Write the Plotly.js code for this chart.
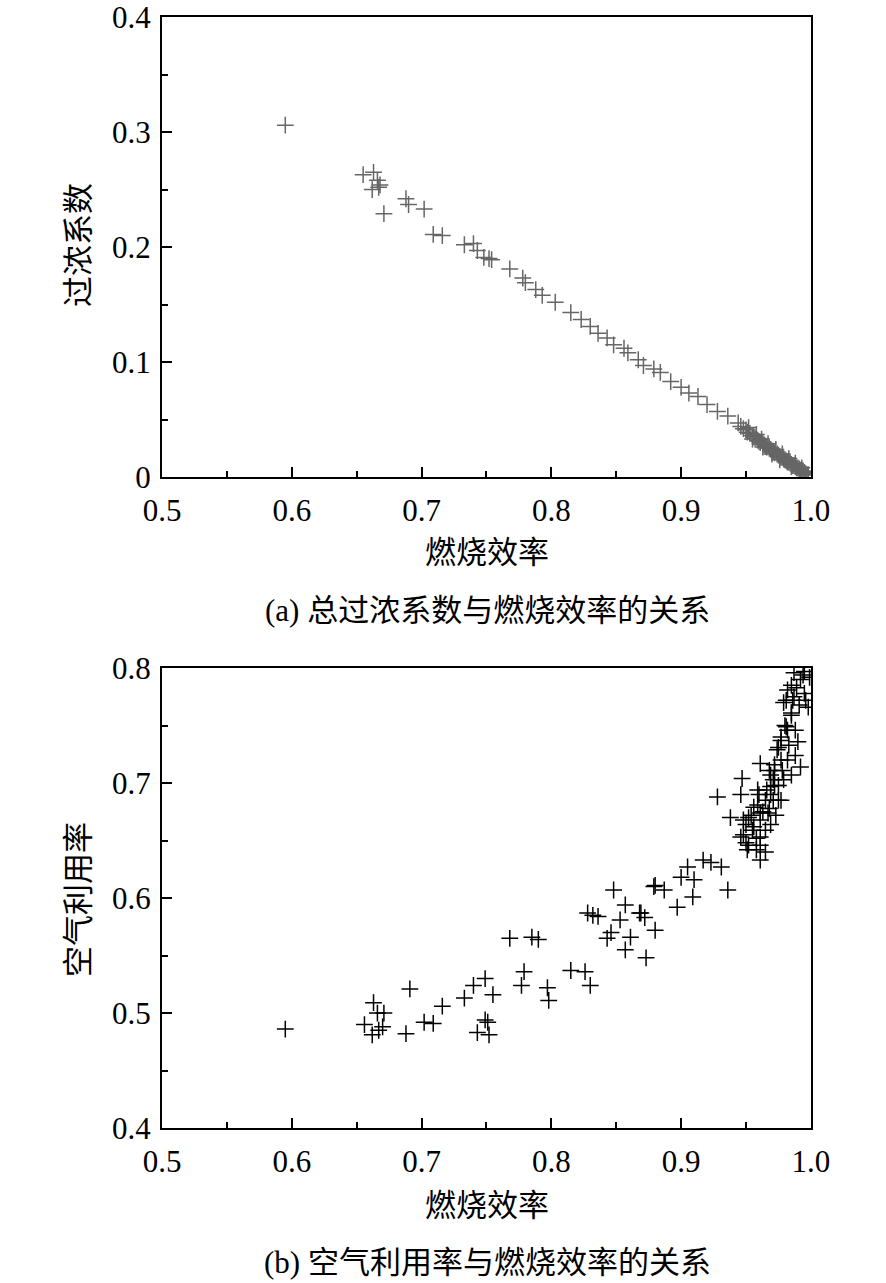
<!DOCTYPE html>
<html>
<head>
<meta charset="utf-8">
<script src="https://cdn.plot.ly/plotly-3.0.1.min.js"></script>
<style>
  html, body { margin: 0; padding: 0; background: #fff; }
  #chart { width: 886px; height: 1283px; }
</style>
</head>
<body>
<div id="chart"></div>
<script>
// (a) 燃烧效率 vs 过浓系数
var effA = [0.595, 0.655, 0.663, 0.666, 0.668, 0.662, 0.667, 0.671, 0.688, 0.690, 0.702, 0.709, 0.716,
  0.733, 0.740, 0.743, 0.748, 0.752, 0.754, 0.768, 0.778, 0.780, 0.788, 0.793, 0.803, 0.815, 0.823,
  0.830, 0.836, 0.843, 0.848, 0.856, 0.859, 0.867, 0.871, 0.879, 0.884, 0.892, 0.900, 0.906, 0.913,
  0.920, 0.928, 0.936, 0.944,
  0.946, 0.948, 0.950, 0.951, 0.953, 0.955, 0.956, 0.957, 0.959, 0.960, 0.961, 0.963, 0.964, 0.965,
  0.966, 0.968, 0.969, 0.970, 0.971, 0.972, 0.974, 0.975, 0.976, 0.977, 0.978, 0.979, 0.980, 0.981,
  0.982, 0.983, 0.984, 0.985, 0.986, 0.987, 0.988, 0.989, 0.990, 0.991, 0.992, 0.993, 0.994, 0.995,
  0.996, 0.997, 0.998, 0.952, 0.958, 0.962, 0.967, 0.973, 0.978, 0.983, 0.988, 0.993, 0.955, 0.963,
  0.970, 0.976, 0.985];
var excess = [0.306, 0.263, 0.265, 0.258, 0.254, 0.250, 0.252, 0.229, 0.242, 0.237, 0.233, 0.211, 0.210,
  0.202, 0.203, 0.197, 0.191, 0.190, 0.189, 0.181, 0.173, 0.169, 0.163, 0.158, 0.152, 0.143, 0.137,
  0.131, 0.125, 0.121, 0.115, 0.112, 0.108, 0.102, 0.097, 0.094, 0.091, 0.083, 0.078, 0.073, 0.070,
  0.063, 0.057, 0.053, 0.047,
  0.044, 0.042, 0.041, 0.039, 0.038, 0.036, 0.035, 0.034, 0.032, 0.031, 0.030, 0.029, 0.028, 0.027,
  0.026, 0.025, 0.024, 0.023, 0.022, 0.021, 0.020, 0.019, 0.018, 0.017, 0.017, 0.016, 0.015, 0.014,
  0.013, 0.013, 0.012, 0.011, 0.010, 0.010, 0.009, 0.008, 0.008, 0.007, 0.006, 0.005, 0.005, 0.004,
  0.003, 0.002, 0.002, 0.043, 0.037, 0.033, 0.029, 0.024, 0.020, 0.016, 0.012, 0.008, 0.033, 0.026,
  0.020, 0.015, 0.009];

// (b) 燃烧效率 vs 空气利用率
var effB = [0.595, 0.656, 0.663, 0.662, 0.666, 0.670, 0.667, 0.671, 0.688, 0.691, 0.702, 0.709, 0.716,
  0.733, 0.740, 0.749, 0.743, 0.749, 0.752, 0.755, 0.751, 0.768, 0.785, 0.790, 0.779, 0.777, 0.797,
  0.798, 0.815, 0.826, 0.830, 0.828, 0.836, 0.843, 0.848, 0.857, 0.857, 0.861, 0.868, 0.872, 0.873,
  0.880, 0.880, 0.832, 0.853, 0.846, 0.869, 0.879, 0.887, 0.897, 0.900, 0.905, 0.910, 0.909, 0.917,
  0.923, 0.931, 0.936, 0.928, 0.946, 0.938, 0.946, 0.947, 0.951, 0.952, 0.956, 0.959, 0.961, 0.965,
  0.967, 0.969, 0.972, 0.975, 0.977, 0.979, 0.981, 0.979, 0.975, 0.982, 0.985, 0.987, 0.990, 0.992,
  0.995, 0.994, 0.998, 0.961, 0.971, 0.969, 0.982, 0.987, 0.977, 0.956, 0.948, 0.961, 0.972, 0.985,
  0.999,
  0.948, 0.950, 0.952, 0.954, 0.955, 0.958, 0.959, 0.961, 0.960, 0.963, 0.965, 0.966, 0.968, 0.969,
  0.971, 0.961, 0.965, 0.958, 0.950, 0.968, 0.972, 0.974, 0.975, 0.977, 0.978, 0.980, 0.982, 0.983,
  0.985, 0.986, 0.988, 0.989, 0.991, 0.992, 0.995, 0.996, 0.985, 0.981, 0.988, 0.977, 0.973, 0.969,
  0.961];
var airUse = [0.486, 0.490, 0.509, 0.481, 0.500, 0.488, 0.485, 0.500, 0.482, 0.521, 0.492, 0.491, 0.506,
  0.513, 0.524, 0.530, 0.483, 0.494, 0.481, 0.516, 0.492, 0.565, 0.566, 0.564, 0.536, 0.524, 0.522,
  0.511, 0.537, 0.536, 0.524, 0.587, 0.584, 0.565, 0.607, 0.594, 0.555, 0.566, 0.587, 0.583, 0.548,
  0.572, 0.611, 0.585, 0.581, 0.570, 0.587, 0.610, 0.607, 0.592, 0.618, 0.627, 0.616, 0.601, 0.633,
  0.631, 0.627, 0.607, 0.688, 0.653, 0.670, 0.690, 0.704, 0.642, 0.670, 0.679, 0.694, 0.717, 0.640,
  0.674, 0.707, 0.711, 0.731, 0.720, 0.770, 0.749, 0.703, 0.685, 0.781, 0.707, 0.796, 0.736, 0.714,
  0.778, 0.794, 0.766, 0.653, 0.685, 0.697, 0.746, 0.775, 0.740, 0.662, 0.668, 0.674, 0.698, 0.761,
  0.792,
  0.655, 0.664, 0.646, 0.672, 0.659, 0.652, 0.681, 0.668, 0.690, 0.675, 0.685, 0.694, 0.678, 0.690,
  0.703, 0.646, 0.659, 0.642, 0.648, 0.711, 0.716, 0.729, 0.698, 0.737, 0.711, 0.750, 0.720, 0.733,
  0.759, 0.772, 0.746, 0.783, 0.768, 0.790, 0.797, 0.772, 0.785, 0.772, 0.724, 0.685, 0.672, 0.664,
  0.633];

var xTicks = [0.5, 0.6, 0.7, 0.8, 0.9, 1.0];
var xTickText = ['0.5', '0.6', '0.7', '0.8', '0.9', '1.0'];
var yTicksA = [0, 0.1, 0.2, 0.3, 0.4];
var yTickTextA = ['0', '0.1', '0.2', '0.3', '0.4'];
var yTicksB = [0.4, 0.5, 0.6, 0.7, 0.8];
var yTickTextB = ['0.4', '0.5', '0.6', '0.7', '0.8'];

var numFont = 'Liberation Serif';
var fontFam = 'Liberation Serif, Noto Sans CJK SC';

var traceA = {
  x: effA, y: excess, xaxis: 'x', yaxis: 'y',
  type: 'scatter', mode: 'markers',
  marker: { symbol: 'cross-thin-open', size: 12, color: '#666', line: { color: '#666', width: 1.5 } },
  hoverinfo: 'x+y'
};
var traceB = {
  x: effB, y: airUse, xaxis: 'x2', yaxis: 'y2',
  type: 'scatter', mode: 'markers',
  marker: { symbol: 'cross-thin-open', size: 12, color: '#000', line: { color: '#000', width: 1.5 } },
  hoverinfo: 'x+y'
};

function axis(extra) {
  var base = {
    showline: true, linecolor: '#000', linewidth: 2, mirror: true,
    ticks: 'inside', ticklen: 10, tickwidth: 2, tickcolor: '#000',
    showgrid: false, zeroline: false, automargin: false,
    tickfont: { family: numFont, size: 31, color: '#000' },
    tickmode: 'array', ticklabeloverflow: 'allow'
  };
  for (var k in extra) base[k] = extra[k];
  return base;
}

function minorTicks(start) {
  return { ticks: 'inside', ticklen: 6, tickwidth: 2, tickcolor: '#000', tick0: start, dtick: 0.05, showgrid: false };
}

var xDom = [162 / 886, 811 / 886];

var layout = {
  width: 886, height: 1283,
  margin: { l: 0, r: 0, t: 0, b: 0 },
  paper_bgcolor: '#fff', plot_bgcolor: '#fff',
  showlegend: false,
  font: { family: fontFam, color: '#000' },
  xaxis: axis({ domain: xDom, anchor: 'y', range: [0.5, 1.0001], tickvals: xTicks, ticktext: xTickText,
    ticklabelstandoff: 5, minor: minorTicks(0.5) }),
  yaxis: axis({ domain: [1 - 477 / 1283, 1 - 17 / 1283], anchor: 'x', range: [0, 0.4001],
    tickvals: yTicksA, ticktext: yTickTextA, ticklabelstandoff: 3, minor: minorTicks(0) }),
  xaxis2: axis({ domain: xDom, anchor: 'y2', range: [0.5, 1.0001], tickvals: xTicks, ticktext: xTickText,
    ticklabelstandoff: 5, minor: minorTicks(0.5) }),
  yaxis2: axis({ domain: [1 - 1128 / 1283, 1 - 668 / 1283], anchor: 'x2', range: [0.4, 0.8001],
    tickvals: yTicksB, ticktext: yTickTextB, ticklabelstandoff: 3, minor: minorTicks(0.4) }),
  annotations: [
    { text: '燃烧效率', xref: 'paper', yref: 'paper', x: 487 / 886, y: 1 - 553 / 1283,
      showarrow: false, font: { family: fontFam, size: 31 }, xanchor: 'center', yanchor: 'middle' },
    { text: '过浓系数', xref: 'paper', yref: 'paper', x: 78 / 886, y: 1 - 245 / 1283, textangle: -90,
      showarrow: false, font: { family: fontFam, size: 31 }, xanchor: 'center', yanchor: 'middle' },
    { text: '(a) 总过浓系数与燃烧效率的关系', xref: 'paper', yref: 'paper', x: 487 / 886, y: 1 - 610 / 1283,
      showarrow: false, font: { family: fontFam, size: 31 }, xanchor: 'center', yanchor: 'middle' },
    { text: '燃烧效率', xref: 'paper', yref: 'paper', x: 487 / 886, y: 1 - 1205 / 1283,
      showarrow: false, font: { family: fontFam, size: 31 }, xanchor: 'center', yanchor: 'middle' },
    { text: '空气利用率', xref: 'paper', yref: 'paper', x: 78 / 886, y: 1 - 900 / 1283, textangle: -90,
      showarrow: false, font: { family: fontFam, size: 31 }, xanchor: 'center', yanchor: 'middle' },
    { text: '(b) 空气利用率与燃烧效率的关系', xref: 'paper', yref: 'paper', x: 487 / 886, y: 1 - 1262 / 1283,
      showarrow: false, font: { family: fontFam, size: 31 }, xanchor: 'center', yanchor: 'middle' }
  ]
};

Plotly.newPlot('chart', [traceA, traceB], layout, { displayModeBar: false, staticPlot: true });
</script>
</body>
</html>
